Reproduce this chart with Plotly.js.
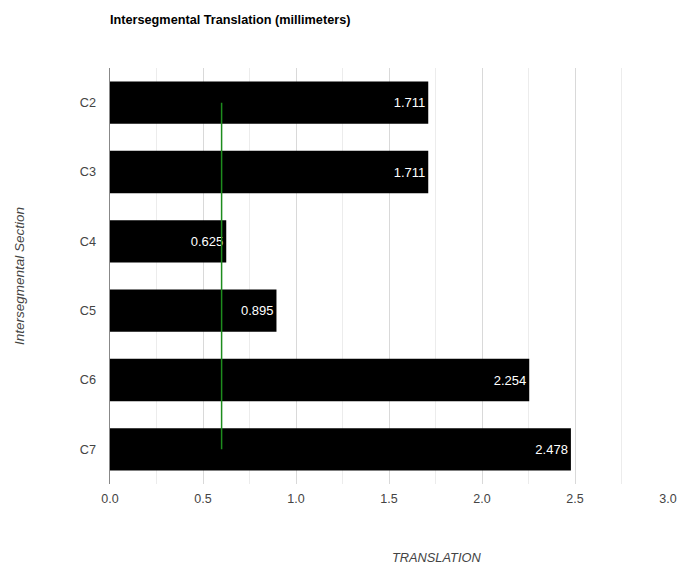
<!DOCTYPE html>
<html>
<head>
<meta charset="utf-8">
<script src="https://cdn.plot.ly/plotly-3.0.1.min.js"></script>
<style>html,body{margin:0;padding:0;background:#fff;}#chart{width:700px;height:578px;}</style>
</head>
<body>
<div id="chart"></div>
<script>
var categories = ['C2', 'C3', 'C4', 'C5', 'C6', 'C7'];
var translation = [1.711, 1.711, 0.625, 0.895, 2.254, 2.478];
var thresholdValue = 0.6;
var thresholdSpan = ['C2', 'C7'];

var bars = {
  type: 'bar',
  orientation: 'h',
  y: categories,
  x: translation,
  text: translation.map(function(v){ return v.toFixed(3); }),
  textposition: 'inside',
  insidetextanchor: 'end',
  insidetextfont: {family: 'Liberation Sans, Arial, sans-serif', size: 13, color: '#ffffff'},
  textangle: 0,
  marker: {color: '#000000'},
  hoverinfo: 'none',
  cliponaxis: false
};

var line = {
  type: 'scatter',
  mode: 'lines',
  x: [thresholdValue, thresholdValue],
  y: thresholdSpan,
  line: {color: '#1e8c1e', width: 1.5},
  hoverinfo: 'none'
};

var layout = {
  width: 700,
  height: 578,
  margin: {l: 110, r: 32, t: 68, b: 94},
  paper_bgcolor: '#ffffff',
  plot_bgcolor: '#ffffff',
  showlegend: false,
  bargap: 0.39,
  font: {family: 'Liberation Sans, Arial, sans-serif', size: 12.5, color: '#444'},
  title: {
    text: '<b>Intersegmental Translation (millimeters)</b>',
    font: {family: 'Liberation Sans, Arial, sans-serif', size: 12.7, color: '#000'},
    xref: 'paper', x: 0, xanchor: 'left',
    yref: 'container', y: 1 - 20/578, yanchor: 'middle'
  },
  xaxis: {
    range: [0, 3],
    dtick: 0.5,
    tick0: 0,
    tickformat: '.1f',
    showgrid: true,
    gridcolor: '#d9d9d9',
    gridwidth: 1,
    zeroline: false,
    showline: false,
    ticks: '',
    ticklabelstandoff: 5,
    tickfont: {size: 12.5, color: '#444'},
    minor: {dtick: 0.25, tick0: 0, showgrid: true, gridcolor: '#ececec', gridwidth: 1},
    fixedrange: true
  },
  yaxis: {
    type: 'category',
    categoryorder: 'array',
    categoryarray: categories,
    autorange: 'reversed',
    showline: true,
    linecolor: '#888888',
    linewidth: 1.5,
    showgrid: false,
    zeroline: false,
    ticks: '',
    ticklabelstandoff: 10,
    tickfont: {size: 12.7, color: '#444'},
    title: {
      text: '<i>Intersegmental Section</i>',
      font: {size: 13.5, color: '#444'},
      standoff: 52
    },
    fixedrange: true
  },
  annotations: [{
    text: '<i>TRANSLATION</i>',
    xref: 'paper', yref: 'paper',
    x: (436.5 - 110) / 558, y: (484 - 557) / 416,
    xanchor: 'center', yanchor: 'middle',
    showarrow: false,
    font: {size: 12.8, color: '#444'}
  }]
};

Plotly.newPlot('chart', [bars, line], layout, {displayModeBar: false, staticPlot: true});
</script>
</body>
</html>
